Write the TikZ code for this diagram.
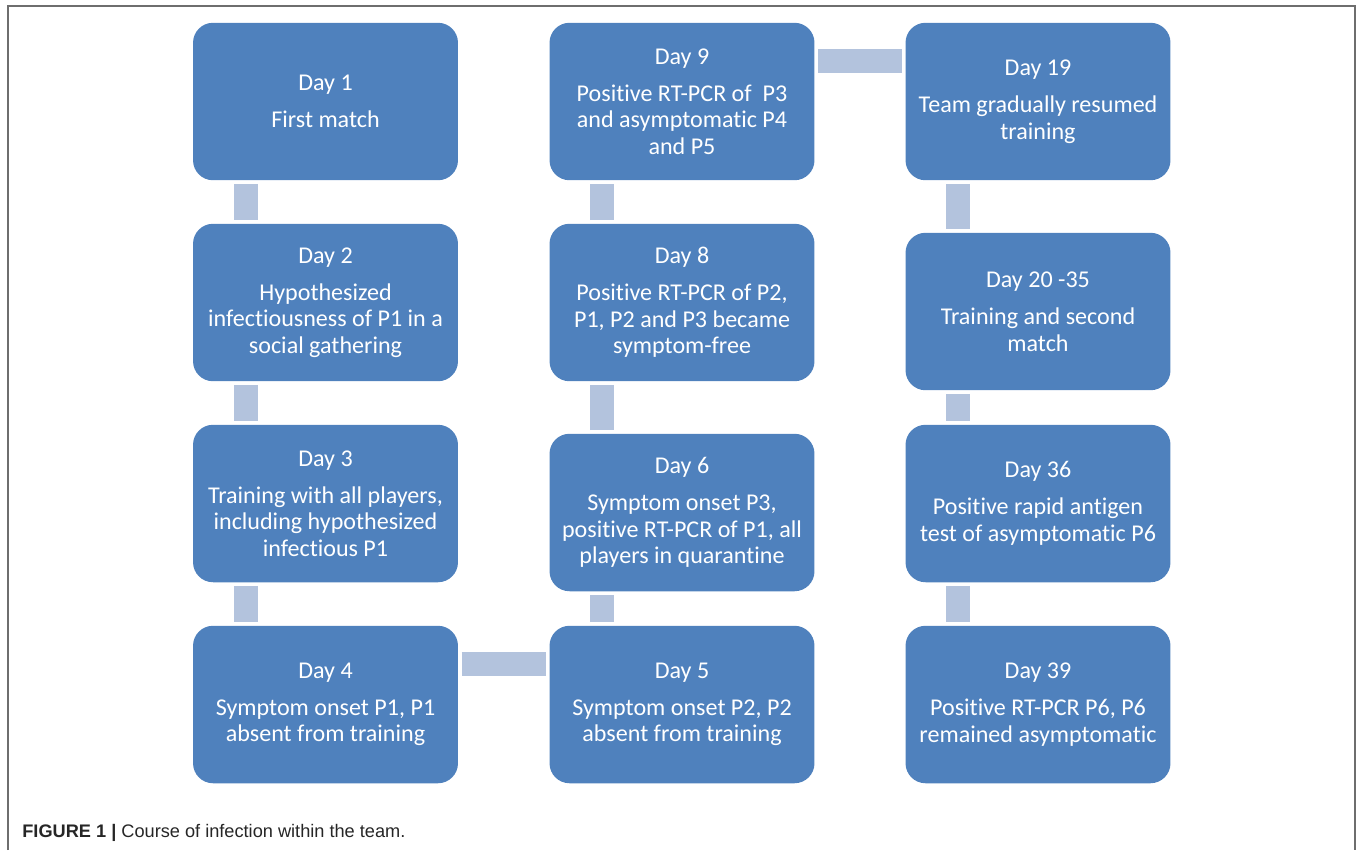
\documentclass[tikz,border=0pt]{standalone}
\usepackage{fontspec}
\setmainfont{Carlito}[Ligatures=NoCommon]
\newfontfamily\capfont{Liberation Sans}
\usetikzlibrary{positioning}
\definecolor{boxblue}{HTML}{4F81BD}
\definecolor{linkblue}{HTML}{B3C3DD}
\definecolor{framegray}{HTML}{6E6E6E}

\begin{document}
\begin{tikzpicture}[x=0.02cm, y=-0.02cm,
    daybox/.style={fill=boxblue, rounded corners=0.4cm, text=white, align=center,
        minimum width=5.3cm, minimum height=3.15cm, inner sep=2pt,
        font=\fontsize{13.7}{15.1}\selectfont},
    link/.style={draw=linkblue, line width=0.48cm, shorten >=0.065cm, shorten <=0.065cm}]

    \useasboundingbox (0,0) rectangle (1358,850);
    \draw[framegray, line width=0.6pt] (8,850) -- (8,6) -- (1355,6) -- (1355,850);

    % first column
    \node[daybox] (day1) at (325.5,101.5) {Day 1\\[6pt] First match};
    \node[daybox] (day2) at (325.5,302.5) {Day 2\\[6pt] Hypothesized\\ infectiousness of P1 in a\\ social gathering};
    \node[daybox] (day3) at (325.5,503.5) {Day 3\\[6pt] Training with all players,\\ including hypothesized\\ infectious P1};
    \node[daybox] (day4) at (325.5,704.5) {Day 4\\[6pt] Symptom onset P1, P1\\ absent from training};

    % second column
    \node[daybox] (day5) at (682,704.5) {Day 5\\[6pt] Symptom onset P2, P2\\ absent from training};
    \node[daybox] (day6) at (682,512.5) {Day 6\\[6pt] Symptom onset P3,\\ positive RT-PCR of P1, all\\ players in quarantine};
    \node[daybox] (day8) at (682,302.5) {Day 8\\[6pt] Positive RT-PCR of P2,\\ P1, P2 and P3 became\\ symptom-free};
    \node[daybox] (day9) at (682,101.5) {Day 9\\[6pt] Positive RT-PCR of\ \ P3\\ and asymptomatic P4\\ and P5};

    % third column
    \node[daybox] (day19) at (1038,101.5) {Day 19\\[6pt] Team gradually resumed\\ training};
    \node[daybox] (day20) at (1038,311.5) {Day 20 -35\\[6pt] Training and second\\ match};
    \node[daybox] (day36) at (1038,503.5) {Day 36\\[6pt] Positive rapid antigen\\ test of asymptomatic P6};
    \node[daybox] (day39) at (1038,704.5) {Day 39\\[6pt] Positive RT-PCR P6, P6\\ remained asymptomatic};

    \draw[link] ([xshift=-1.6cm]day1.south) -- ([xshift=-1.6cm]day2.north);
    \draw[link] ([xshift=-1.6cm]day2.south) -- ([xshift=-1.6cm]day3.north);
    \draw[link] ([xshift=-1.6cm]day3.south) -- ([xshift=-1.6cm]day4.north);
    \draw[link] ([yshift=0.82cm]day4.east) -- ([yshift=0.82cm]day5.west);
    \draw[link] ([xshift=-1.6cm]day5.north) -- ([xshift=-1.6cm]day6.south);
    \draw[link] ([xshift=-1.6cm]day6.north) -- ([xshift=-1.6cm]day8.south);
    \draw[link] ([xshift=-1.6cm]day8.north) -- ([xshift=-1.6cm]day9.south);
    \draw[link] ([yshift=0.82cm]day9.east) -- ([yshift=0.82cm]day19.west);
    \draw[link] ([xshift=-1.6cm]day19.south) -- ([xshift=-1.6cm]day20.north);
    \draw[link] ([xshift=-1.6cm]day20.south) -- ([xshift=-1.6cm]day36.north);
    \draw[link] ([xshift=-1.6cm]day36.south) -- ([xshift=-1.6cm]day39.north);

    \node[anchor=base west, inner sep=0pt, text=black!85,
        font=\capfont\fontsize{10.35}{12}\selectfont] (caption) at (22,837)
        {\textbf{FIGURE 1 |} Course of infection within the team.};
\end{tikzpicture}
\end{document}
